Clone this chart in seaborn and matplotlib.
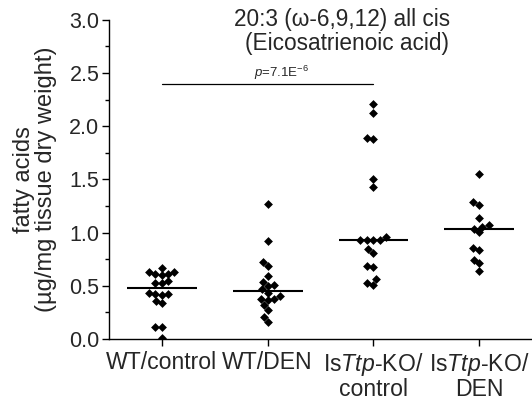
import numpy as np
import pandas as pd
import matplotlib
matplotlib.use("Agg")
import matplotlib.pyplot as plt
from matplotlib.ticker import MultipleLocator
import seaborn as sns

# Eicosatrienoic acid content per animal (µg/mg tissue dry weight)
groups = ["WT/control", "WT/DEN", "IsTtp-KO/control", "IsTtp-KO/DEN"]
tick_labels = ["WT/control", "WT/DEN", "Is$\\it{Ttp}$-KO/\ncontrol", "Is$\\it{Ttp}$-KO/\nDEN"]

wt_control = [0.665, 0.61, 0.61, 0.60, 0.633, 0.633, 0.524, 0.548, 0.524,
              0.414, 0.436, 0.423, 0.423, 0.342, 0.36, 0.116, 0.116, 0.01]
wt_den = [1.27, 0.922, 0.727, 0.687, 0.593, 0.505, 0.47, 0.50, 0.536,
          0.407, 0.436, 0.373, 0.367, 0.32, 0.373, 0.273, 0.204, 0.157]
ko_control = [2.21, 2.12, 1.88, 1.89, 1.50, 1.43, 0.93, 0.93, 0.957, 0.93,
              0.806, 0.844, 0.69, 0.674, 0.524, 0.508, 0.56, 0.93]
ko_den = [1.552, 1.286, 1.26, 1.14, 1.072, 1.056, 1.035, 1.004,
          0.837, 0.859, 0.743, 0.712, 0.64]

p_text = "$\\it{p}$=7.1E$^{-6}$"
p_value_height = 2.40
title_lines = ["20:3 (ω-6,9,12) all cis", "(Eicosatrienoic acid)"]

values = [wt_control, wt_den, ko_control, ko_den]
df = pd.DataFrame({
    "group": np.repeat(groups, [len(v) for v in values]),
    "value": np.concatenate(values),
})

sns.set_theme(style="ticks")
plt.rcParams["font.family"] = ["Liberation Sans", "DejaVu Sans"]
plt.rcParams["mathtext.fontset"] = "custom"
plt.rcParams["mathtext.rm"] = "Liberation Sans"
plt.rcParams["mathtext.it"] = "Liberation Sans:italic"

fig = plt.figure(figsize=(5.32, 4.05), dpi=100)
ax = fig.add_axes([0.205, 0.163, 0.795, 0.788])

sns.swarmplot(data=df, x="group", y="value", order=groups, ax=ax,
              marker="D", color="black", size=4.5, linewidth=0)

# median bars
sns.boxplot(data=df, x="group", y="value", order=groups, ax=ax,
            width=0.66, showbox=False, showcaps=False, showfliers=False,
            whis=0, whiskerprops={"visible": False},
            medianprops={"color": "black", "linewidth": 1.5})

ax.set_xlim(-0.5, 3.5)
ax.set_ylim(0, 3.0)
ax.yaxis.set_major_locator(MultipleLocator(0.5))
ax.yaxis.set_minor_locator(MultipleLocator(0.25))
ax.set_yticks(np.arange(0, 3.01, 0.5))
ax.set_yticklabels([f"{t:.1f}" for t in np.arange(0, 3.01, 0.5)])
ax.set_xticks(range(len(groups)))
ax.set_xticklabels(tick_labels, fontsize=16.6, linespacing=1.0)
ax.tick_params(axis="y", which="major", labelsize=15.5, length=5, width=1, color="black", pad=2)
ax.tick_params(axis="y", which="minor", length=3, width=1, color="black")
ax.tick_params(axis="x", which="major", length=5, width=1, color="black", pad=4)
ax.set_xlabel("")
ax.set_ylabel("fatty acids\n(µg/mg tissue dry weight)", fontsize=17, labelpad=9, linespacing=0.95)
for side in ["top", "right"]:
    ax.spines[side].set_visible(False)
for side in ["left", "bottom"]:
    ax.spines[side].set_color("black")
    ax.spines[side].set_linewidth(1.0)

# significance bar between WT/control and IsTtp-KO/control
ax.plot([0, 2], [p_value_height, p_value_height], color="black", lw=0.9)
ax.text(1.13, p_value_height + 0.015, p_text, ha="center", va="bottom", fontsize=9.5)

fig.text(0.643, 0.953, title_lines[0], ha="center", va="center", fontsize=16.3)
fig.text(0.652, 0.893, title_lines[1], ha="center", va="center", fontsize=16.3)

fig.savefig("out.png", dpi=100)
